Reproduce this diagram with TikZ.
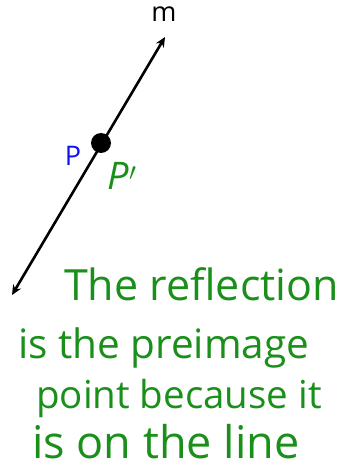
\documentclass[tikz,border=0pt]{standalone}
\usepackage{fontspec}
\setsansfont{Open Sans}
\definecolor{penGreen}{HTML}{1A8F1A}
\definecolor{pointBlue}{HTML}{1010F0}
\usetikzlibrary{arrows.meta,positioning}

\begin{document}
\begin{tikzpicture}[x=1pt, y=-1pt,
  note/.style={text=penGreen, font=\sffamily\fontsize{#1}{46}\selectfont, inner sep=0pt, anchor=base west},
  note/.default=42,
  lbl/.style={font=\sffamily\fontsize{27}{30}\selectfont, inner sep=0pt}]
\useasboundingbox (0,0) rectangle (346,473);
\coordinate (lo) at (12,295);
\coordinate (hi) at (165,37);
\draw[line width=2.6pt, {Stealth[length=10pt,width=9pt]}-{Stealth[length=10pt,width=9pt]}] (lo) -- (hi);
\fill (101,143) circle (10pt) coordinate (pt);
\node[lbl] (m) at (164,14) {m};
\node[lbl, text=pointBlue] (p) at (73,156) {P};
\node[lbl, text=penGreen, font=\sffamily\itshape\fontsize{38}{40}\selectfont] (pp) at (122,176) {P$'$};
% handwritten remark
\node[note=43] (l1) at (64,300) {The reflection};
\node[note=40.5] (l2) at (18,358) {is the preimage};
\node[note=38.5] (l3) at (36,408) {point because it};
\node[note=45] (l4) at (32,458) {is on the line};
\end{tikzpicture}
\end{document}
